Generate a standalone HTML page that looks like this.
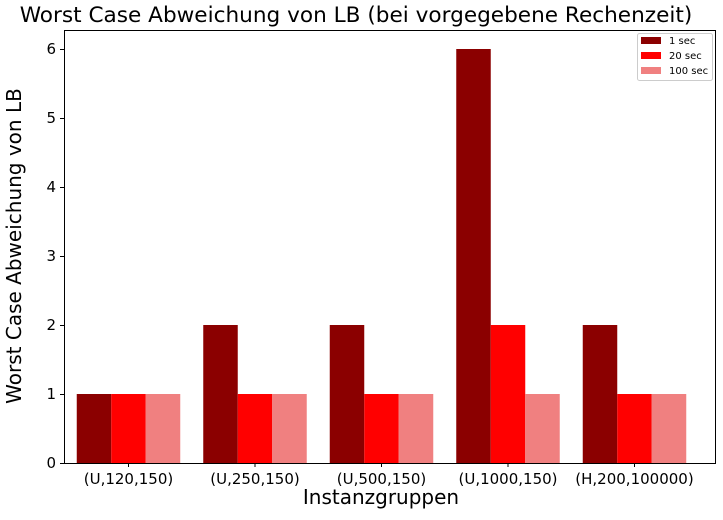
<!DOCTYPE html>
<html><head><meta charset="utf-8"><style>
body{margin:0;background:#fff;}
svg text{font-family:"DejaVu Sans","Liberation Sans",sans-serif;fill:#000;}
</style></head><body>
<svg id="chart" width="723" height="515" xmlns="http://www.w3.org/2000/svg">
<rect width="723" height="515" fill="#fff"/>
<text x="356" y="22" font-size="21.6" text-anchor="middle">Worst Case Abweichung von LB (bei vorgegebene Rechenzeit)</text>
<g id="bars"></g>
<g id="axes"></g>
<text x="381" y="504" font-size="20" text-anchor="middle">Instanzgruppen</text>
<text transform="translate(21,246) rotate(-90)" font-size="20" text-anchor="middle">Worst Case Abweichung von LB</text>
<g>
<rect x="637.5" y="33.5" width="75" height="47" fill="#fff" stroke="#ccc" rx="2"/>
<rect x="641" y="37" width="20" height="7" fill="#8b0000"/>
<text x="669" y="44" font-size="10">1 sec</text>
<rect x="641" y="52" width="20" height="7" fill="#ff0000"/>
<text x="669" y="59" font-size="10">20 sec</text>
<rect x="641" y="67" width="20" height="7" fill="#f08080"/>
<text x="669" y="74" font-size="10">100 sec</text>
</g>
</svg>
<script>
const categories=["(U,120,150)","(U,250,150)","(U,500,150)","(U,1000,150)","(H,200,100000)"];
const sec1=[1,2,2,6,2];
const sec20=[1,1,1,2,1];
const sec100=[1,1,1,1,1];
const yTicks=[0,1,2,3,4,5,6];
const seriesColors=["#8b0000","#ff0000","#f08080"];
const NS="http://www.w3.org/2000/svg";
const L=64,R=716,T=30,B=463;
const y=v=>B-v*69;
const x=i=>128.5+126.5*i;
const bw=34.5;
const bars=document.getElementById('bars');
const axes=document.getElementById('axes');
function mk(tag,attrs,parent){const e=document.createElementNS(NS,tag);for(const k in attrs)e.setAttribute(k,attrs[k]);parent.appendChild(e);return e;}
[sec1,sec20,sec100].forEach((s,si)=>{
  s.forEach((v,i)=>{
    const r=mk('rect',{x:x(i)+(si-1.5)*bw,y:y(v),width:bw,height:B-y(v),fill:seriesColors[si]},bars);
    
    
  });
});
const frame=mk('rect',{x:L+0.5,y:T+0.5,width:R-L-1,height:B-T,fill:'none',stroke:'#000','stroke-width':1},axes);


yTicks.forEach(t=>{
  mk('line',{x1:L-4,x2:L,y1:y(t)+0.5,y2:y(t)+0.5,stroke:'#000'},axes);
  const tx=mk('text',{x:L-8,y:y(t)+5,'font-size':15,'text-anchor':'end'},axes);
  tx.textContent=t;
  
  
});
categories.forEach((c,i)=>{
  mk('line',{x1:x(i),x2:x(i),y1:B,y2:B+4,stroke:'#000'},axes);
  const tx=mk('text',{x:x(i),y:B+21,'font-size':15,'text-anchor':'middle'},axes);
  tx.textContent=c;
  
  
});
</script>
</body></html>
